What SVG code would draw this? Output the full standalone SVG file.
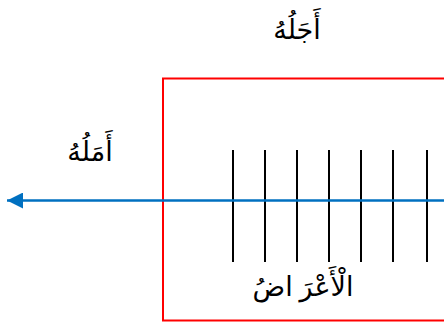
<svg xmlns="http://www.w3.org/2000/svg" width="444" height="322" viewBox="0 0 444 322">
<defs>
<style>
.t{font-family:"Times New Roman","Liberation Serif","DejaVu Sans","Noto Sans",serif;font-size:27px;fill:#000;text-anchor:middle}
.tick{stroke:#000;stroke-width:2}
</style>
<marker id="ah" markerWidth="16" markerHeight="16" refX="16" refY="8" orient="auto" markerUnits="userSpaceOnUse">
<path d="M0,0 L16,8 L0,16 Z" fill="#0070C0"/>
</marker>
</defs>
<rect width="444" height="322" fill="#fff"/>
<g id="frame"><rect x="163" y="78.5" width="300" height="242" fill="none" stroke="#FF0000" stroke-width="2"/></g>
<g id="ticks">
<line class="tick" x1="233" y1="150" x2="233" y2="262"/>
<line class="tick" x1="265" y1="150" x2="265" y2="262"/>
<line class="tick" x1="297" y1="150" x2="297" y2="262"/>
<line class="tick" x1="329" y1="150" x2="329" y2="262"/>
<line class="tick" x1="361" y1="150" x2="361" y2="262"/>
<line class="tick" x1="393" y1="150" x2="393" y2="262"/>
<line class="tick" x1="427" y1="150" x2="427" y2="262"/>
</g>
<g id="connectors">
<line x1="446" y1="200.5" x2="7" y2="200.5" stroke="#0070C0" stroke-width="2.5" marker-end="url(#ah)"/>
</g>
<g id="ajaluhu"><text class="t" x="297" y="39" direction="rtl">أَجَلُهُ</text></g>
<g id="amaluhu"><text class="t" x="90" y="161" direction="rtl">أَمَلُهُ</text></g>
<g id="alaarad"><text class="t" x="303" y="296" direction="rtl">الْأَعْرَ اضُ</text></g>
</svg>
